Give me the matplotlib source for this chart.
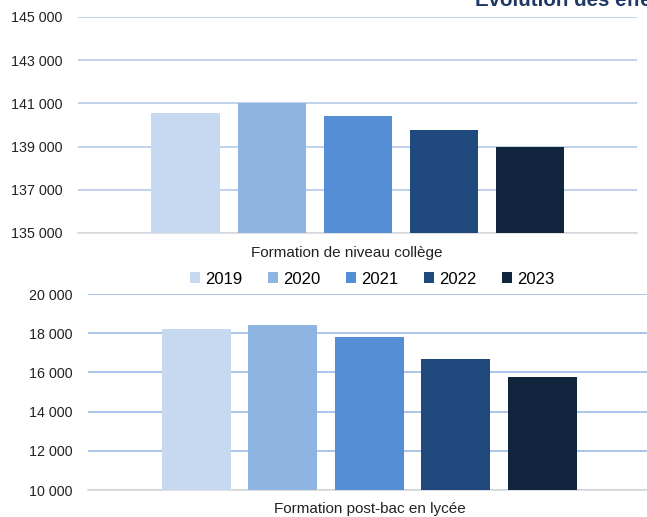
import matplotlib.pyplot as plt

plt.rcParams['font.family'] = ['Liberation Sans', 'DejaVu Sans']

years = ["2019", "2020", "2021", "2022", "2023"]
colors = ["#c6d9f0", "#8eb4e2", "#558ed5", "#1f497c", "#11253f"]

college_label = "Formation de niveau collège"
college_values = [140550, 141020, 140400, 139790, 138990]
college_ticks = [135000, 137000, 139000, 141000, 143000, 145000]

postbac_label = "Formation post-bac en lycée"
postbac_values = [18190, 18400, 17830, 16690, 15760]
postbac_ticks = [10000, 12000, 14000, 16000, 18000, 20000]

W, H = 647, 517


def fmt(v):
    return f"{v:,}".replace(",", " ")


def draw_panel(ax, values, ticks, label, width_px, bar_px, step_px, grid_color, label_shift):
    n = len(values)
    for i, (v, c) in enumerate(zip(values, colors)):
        x = (i - (n - 1) / 2) * step_px / width_px
        ax.bar(x, v - ticks[0], bottom=ticks[0], width=bar_px / width_px,
               color=c, zorder=3, label=years[i])
    ax.set_xlim(-0.5, 0.5)
    ax.set_ylim(ticks[0], ticks[-1])
    ax.set_yticks(ticks)
    ax.set_yticklabels([fmt(t) for t in ticks], fontsize=10.3, color="#222222")
    ax.set_xticks([label_shift / width_px])
    ax.set_xticklabels([label], fontsize=11, color="#222222")
    ax.tick_params(length=0)
    ax.tick_params(axis="y", pad=11)
    ax.tick_params(axis="x", pad=9)
    for s in ["top", "right", "left"]:
        ax.spines[s].set_visible(False)
    ax.spines["bottom"].set_color("#d9d9d9")
    ax.spines["bottom"].set_linewidth(1.2)
    ax.yaxis.grid(True, color=grid_color, linewidth=1.2, zorder=0)
    ax.set_axisbelow(True)


fig = plt.figure(figsize=(W / 100, H / 100), dpi=100)

ax1 = fig.add_axes([78 / W, (H - 233) / H, 559 / W, 216 / H])
draw_panel(ax1, college_values, college_ticks, college_label, 559, 68, 86, "#b4cbe8", -11)

ax2 = fig.add_axes([88 / W, (H - 490) / H, 563 / W, 196 / H])
draw_panel(ax2, postbac_values, postbac_ticks, postbac_label, 563, 69, 86.5, "#9dbce6", 0)

handles, labels = ax1.get_legend_handles_labels()
fig.legend(handles, labels, loc="center", bbox_to_anchor=(372 / W, 1 - 279 / H),
           ncol=5, frameon=False, fontsize=12, handlelength=0.6, handleheight=0.6,
           handletextpad=0.3, columnspacing=1.55, borderpad=0)

# title is partly outside the frame in the source image
fig.text(475 / W, 1 - 6 / H, "Évolution des effectifs", fontsize=14.8, fontweight="bold",
         color="#1f3864", ha="left", va="baseline")

fig.savefig("out.png", dpi=100)
